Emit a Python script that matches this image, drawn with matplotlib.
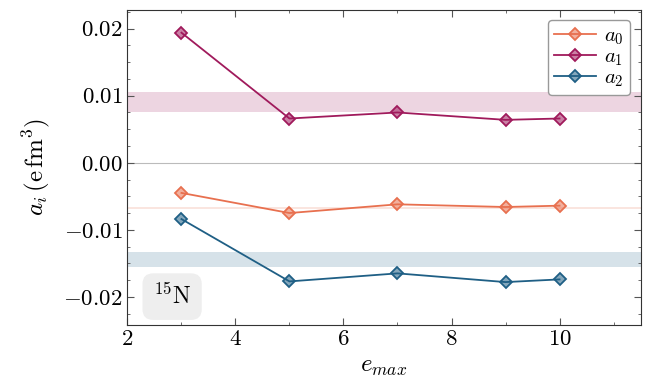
import numpy as np
import matplotlib
matplotlib.use("Agg")
import matplotlib.pyplot as plt

# data
e_max = [3, 5, 7, 9, 10]
a0 = [-0.0045, -0.0075, -0.0062, -0.0066, -0.0064]
a1 = [0.0194, 0.0066, 0.0075, 0.0064, 0.0066]
a2 = [-0.0084, -0.0177, -0.0165, -0.0178, -0.0174]

# reference bands (low, high)
band_a0 = (-0.00685, -0.00665)
band_a1 = (0.0076, 0.0106)
band_a2 = (-0.0155, -0.0133)

colors = ["#e8704f", "#a01a5c", "#1f5f85"]
labels = [r"$a_0$", r"$a_1$", r"$a_2$"]

plt.rcParams.update({
    "font.family": "serif",
    "font.serif": ["cmr10"],
    "mathtext.fontset": "cm",
    "axes.formatter.use_mathtext": True,
    "font.size": 14,
    "xtick.direction": "in",
    "ytick.direction": "in",
    "xtick.top": True,
    "ytick.right": True,
    "xtick.minor.visible": True,
    "ytick.minor.visible": True,
    "xtick.major.size": 5,
    "ytick.major.size": 5,
    "xtick.minor.size": 2.5,
    "ytick.minor.size": 2.5,
    "xtick.color": "#555555",
    "ytick.color": "#555555",
    "xtick.labelcolor": "black",
    "ytick.labelcolor": "black",
})

fig, ax = plt.subplots(figsize=(6.47, 3.81), dpi=100)

ax.axhline(0, color="#bbbbbb", lw=0.8, zorder=1)
for (lo, hi), c in zip([band_a0, band_a1, band_a2], colors):
    ax.axhspan(lo, hi, color=c, alpha=0.18, lw=0, zorder=0)

for y, c, lab in zip([a0, a1, a2], colors, labels):
    ax.plot(e_max, y, color=c, lw=1.3, marker="D", ms=6.5,
            mfc=matplotlib.colors.to_rgba(c, 0.55), mec=c, mew=1.3,
            label=lab, zorder=3)

ax.set_xlim(2, 11.5)
ax.set_ylim(-0.0242, 0.0228)
ax.set_xticks([2, 4, 6, 8, 10])
ax.set_yticks([-0.02, -0.01, 0.0, 0.01, 0.02])
ax.set_yticklabels(["$-0.02$", "$-0.01$", "$0.00$", "$0.01$", "$0.02$"])
ax.set_xticklabels(["$2$", "$4$", "$6$", "$8$", "$10$"])
ax.xaxis.set_minor_locator(matplotlib.ticker.MultipleLocator(1))
ax.yaxis.set_minor_locator(matplotlib.ticker.MultipleLocator(0.0025))
ax.tick_params(labelsize=16.5)

for s in ax.spines.values():
    s.set_color("#333333")

ax.set_xlabel(r"$e_{max}$", fontsize=18, labelpad=5)
ax.set_ylabel(r"$a_i\,(\mathrm{e\,fm}^3)$", fontsize=18, labelpad=8)

leg = ax.legend(loc="upper right", fontsize=15, handlelength=2.0,
                borderpad=0.3, labelspacing=0.05, handletextpad=0.4,
                borderaxespad=0.5, fancybox=True, edgecolor="#999999",
                framealpha=1)

ax.text(0.05, 0.09, r"$^{15}\mathrm{N}$", transform=ax.transAxes,
        fontsize=17, va="center", ha="left",
        bbox=dict(boxstyle="round,pad=0.45", fc="#eeeeee", ec="none"))

fig.subplots_adjust(left=0.197, right=0.99, top=0.974, bottom=0.147)
fig.savefig("out.png", dpi=100)
